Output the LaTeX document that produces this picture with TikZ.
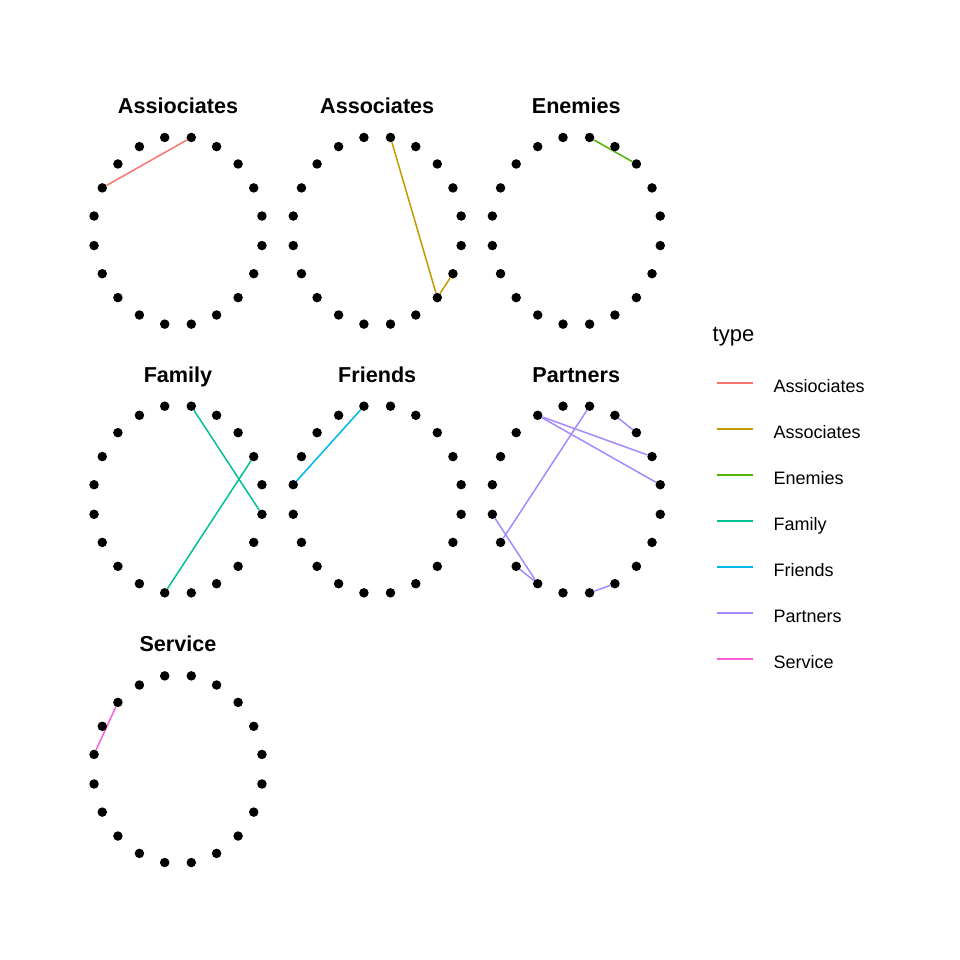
\documentclass[tikz,border=0pt]{standalone}
\usepackage{fontspec}
\setmainfont{Liberation Sans}
\usepackage{tikz}
\usetikzlibrary{positioning}
\pgfdeclarelayer{bg}
\pgfsetlayers{bg,main}

\definecolor{cAssio}{HTML}{F8766D}
\definecolor{cAsso}{HTML}{C49A00}
\definecolor{cEnem}{HTML}{53B400}
\definecolor{cFam}{HTML}{00C094}
\definecolor{cFri}{HTML}{00B6EB}
\definecolor{cPart}{HTML}{A58AFF}
\definecolor{cServ}{HTML}{FB61D7}

\begin{document}
\begin{tikzpicture}[
			x = 1pt, y = -1pt,
			dot/.style = {circle, fill=black, inner sep=0pt, minimum size=9.5pt},
			edge/.style = {line width=1.5pt},
			facettitle/.style = {font=\fontsize{21.6}{24}\selectfont\bfseries, anchor=base},
			keylabel/.style = {font=\fontsize{18}{22}\selectfont, anchor=base west, inner sep=0pt},
			declare function = {
				px(\k) = 85*cos(9+18*\k);
				py(\k) = -94.5*sin(9+18*\k);
			}
		]
		\useasboundingbox (0,0) rectangle (960,960);

		% facets: title and circle of vertices
		\foreach \f/\cx/\cy/\lab in {A/178/230.8/Assiociates, B/377.2/230.8/Associates,
				C/576.3/230.8/Enemies, D/178/499.5/Family, E/377.2/499.5/Friends,
				F/576.3/499.5/Partners, G/178/769.2/Service}{
			\node[facettitle] (t\f) at (\cx,\cy-117.5) {\lab};
			\foreach \k in {0,...,19}
				\node[dot] (\f\k) at ({\cx+px(\k)},{\cy+py(\k)}) {};
		}

		% edges
		\begin{pgfonlayer}{bg}
			\draw[edge,cAssio] (A8) -- (A4);
			\draw[edge,cAsso] (B4) -- (B17) -- (B18);
			\draw[edge,cEnem] (C4) -- (C2);
			\draw[edge,cFam] (D4) -- (D19);
			\draw[edge,cFam] (D14) -- (D1);
			\draw[edge,cFri] (E5) -- (E9);
			\foreach \a/\b in {6/1, 6/0, 4/11, 3/2, 10/13, 12/13, 15/16}
				\draw[edge,cPart] (F\a) -- (F\b);
			\draw[edge,cServ] (G7) -- (G9);
		\end{pgfonlayer}

		% legend
		\node[font=\fontsize{22}{26}\selectfont, anchor=base west, inner sep=0pt] (legtitle) at (712.5,341.7) {type};
		\foreach \lab/\col [count=\i from 0] in {Assiociates/cAssio, Associates/cAsso,
				Enemies/cEnem, Family/cFam, Friends/cFri, Partners/cPart, Service/cServ}{
			\node[keylabel] (key\i) at (773.3,392.5+46*\i) {\lab};
			\draw[edge,\col] (717.3,383+46*\i) -- ++(36,0);
		}

\end{tikzpicture}
\end{document}
